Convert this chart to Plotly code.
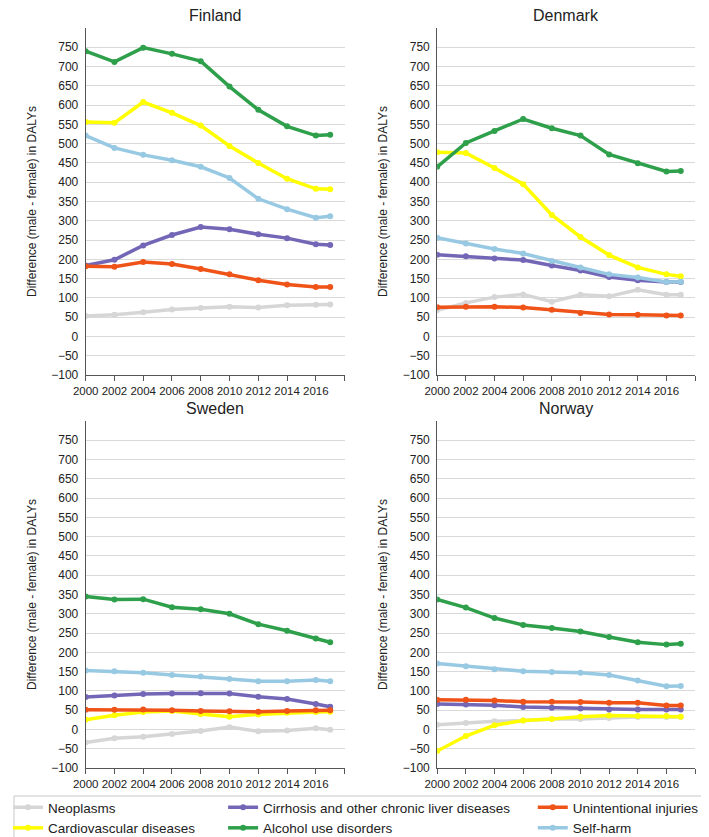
import plotly.graph_objects as go

W, H = 709, 837

years = [2000, 2002, 2004, 2006, 2008, 2010, 2012, 2014, 2016, 2017]
countries = ["Finland", "Denmark", "Sweden", "Norway"]
causes = ["Neoplasms", "Cardiovascular diseases",
          "Cirrhosis and other chronic liver diseases", "Alcohol use disorders",
          "Unintentional injuries", "Self-harm"]

# Finland
fin_neoplasms = [53, 56, 63, 70, 74, 77, 75, 81, 82, 83]
fin_cardio = [556, 554, 608, 580, 547, 494, 450, 409, 383, 382]
fin_cirrhosis = [184, 199, 236, 263, 284, 278, 265, 255, 239, 237]
fin_alcohol = [740, 712, 749, 733, 714, 648, 588, 545, 521, 523]
fin_injuries = [182, 181, 193, 188, 175, 161, 146, 135, 128, 128]
fin_selfharm = [521, 489, 471, 457, 440, 411, 357, 330, 308, 312]

# Denmark
den_neoplasms = [68, 87, 102, 109, 90, 108, 104, 121, 108, 108]
den_cardio = [478, 476, 437, 395, 315, 258, 211, 179, 161, 156]
den_cirrhosis = [212, 208, 202, 198, 184, 171, 154, 146, 141, 141]
den_alcohol = [440, 502, 533, 564, 540, 521, 472, 449, 428, 429]
den_injuries = [76, 77, 77, 75, 69, 61, 57, 56, 54, 54]
den_selfharm = [256, 241, 227, 215, 196, 179, 161, 153, 141, 142]

# Sweden
swe_neoplasms = [-34, -23, -19, -12, -4, 6, -5, -3, 3, -1]
swe_cardio = [25, 37, 45, 48, 40, 33, 39, 43, 45, 46]
swe_cirrhosis = [84, 88, 92, 93, 94, 93, 85, 79, 66, 59]
swe_alcohol = [345, 337, 338, 317, 312, 300, 273, 256, 236, 226]
swe_injuries = [51, 51, 52, 50, 48, 47, 46, 48, 50, 50]
swe_selfharm = [153, 151, 147, 141, 137, 131, 125, 125, 128, 125]

# Norway
nor_neoplasms = [12, 17, 21, 23, 27, 27, 30, 32, 32, 32]
nor_cardio = [-56, -17, 11, 23, 27, 33, 36, 35, 35, 33]
nor_cirrhosis = [66, 65, 63, 58, 56, 54, 52, 52, 52, 52]
nor_alcohol = [337, 316, 289, 271, 263, 254, 240, 226, 220, 222]
nor_injuries = [77, 77, 75, 72, 72, 71, 69, 69, 62, 62]
nor_selfharm = [171, 164, 156, 151, 149, 147, 141, 127, 112, 113]

data = {
    "Finland": [fin_neoplasms, fin_cardio, fin_cirrhosis, fin_alcohol, fin_injuries, fin_selfharm],
    "Denmark": [den_neoplasms, den_cardio, den_cirrhosis, den_alcohol, den_injuries, den_selfharm],
    "Sweden": [swe_neoplasms, swe_cardio, swe_cirrhosis, swe_alcohol, swe_injuries, swe_selfharm],
    "Norway": [nor_neoplasms, nor_cardio, nor_cirrhosis, nor_alcohol, nor_injuries, nor_selfharm],
}

y_ticks = list(range(-100, 751, 50))
x_ticks = list(range(2000, 2019, 2))
x_ticktext = [str(v) for v in x_ticks[:-1]] + [""]

colors = ["#d6d6d6", "#ffff00", "#7466b6", "#2e9f4a", "#ef5318", "#98c9e3"]
legend_ids = ["legend", "legend", "legend2", "legend2", "legend3", "legend3"]
draw_order = [0, 1, 2, 3, 4, 5]

FONT = "Liberation Sans, Arial, sans-serif"

# panel pixel boxes: (left, right, top, bottom)
boxes = {
    "Finland": (75, 335, 20, 367),
    "Denmark": (428, 687, 20, 367),
    "Sweden": (75, 335, 413, 760),
    "Norway": (428, 687, 413, 760),
}

fig = go.Figure()
layout = {}
annotations = []
for i, c in enumerate(countries):
    n = "" if i == 0 else str(i + 1)
    l, r, t, b = boxes[c]
    layout["xaxis" + n] = dict(
        domain=[l / W, r / W], anchor="y" + n, range=[2000, 2018],
        tickvals=x_ticks, ticktext=x_ticktext, ticks="outside", ticklen=5,
        tickangle=0,
        tickcolor="#555", showline=True, linecolor="#555", linewidth=1,
        showgrid=False, zeroline=False, automargin=False,
        tickfont=dict(size=11.5, color="#222", family=FONT),
    )
    layout["yaxis" + n] = dict(
        domain=[1 - b / H, 1 - t / H], anchor="x" + n, range=[-100, 800],
        tickvals=y_ticks, showline=True, linecolor="#555", linewidth=1,
        showgrid=True, gridcolor="#d9d9d9", gridwidth=1, zeroline=False,
        automargin=False, ticks="", ticklabelstandoff=4,
        tickfont=dict(size=12, color="#222", family=FONT),
        title=dict(text="Difference (male - female) in DALYs",
                   font=dict(size=12, color="#222", family=FONT), standoff=12),
    )
    annotations.append(dict(
        text=c, xref="paper", yref="paper", x=(l + r) / 2 / W,
        y=1 - (t - 13) / H, xanchor="center", yanchor="middle",
        showarrow=False, font=dict(size=16, color="#222", family=FONT)))
    for k in draw_order:
        fig.add_trace(go.Scatter(
            x=years, y=data[c][k], mode="lines+markers", name=causes[k],
            line=dict(color=colors[k], width=3.5),
            marker=dict(color=colors[k], size=6),
            xaxis="x" + n, yaxis="y" + n,
            legend=legend_ids[k], showlegend=(i == 0),
            legendgroup=causes[k],
        ))

leg_common = dict(bgcolor="rgba(0,0,0,0)", borderwidth=0, orientation="v",
                  yanchor="middle", y=1 - 810 / H, tracegroupgap=0,
                  font=dict(size=13.5, color="#222", family=FONT), itemwidth=30)
layout["legend"] = dict(leg_common, x=-3 / W, xanchor="left")
layout["legend2"] = dict(leg_common, x=213 / W, xanchor="left")
layout["legend3"] = dict(leg_common, x=524 / W, xanchor="left")

fig.update_layout(**layout)
fig.update_layout(
    width=W, height=H, margin=dict(l=0, r=0, t=0, b=0),
    paper_bgcolor="white", plot_bgcolor="white",
    annotations=annotations,
    shapes=[dict(type="rect", xref="paper", yref="paper",
                 x0=3 / W, x1=706 / W, y0=1 - 835 / H, y1=1 - 788 / H,
                 line=dict(color="#c8c8c8", width=1), fillcolor="rgba(0,0,0,0)")],
    font=dict(family=FONT),
)

fig.write_html("out.html")
